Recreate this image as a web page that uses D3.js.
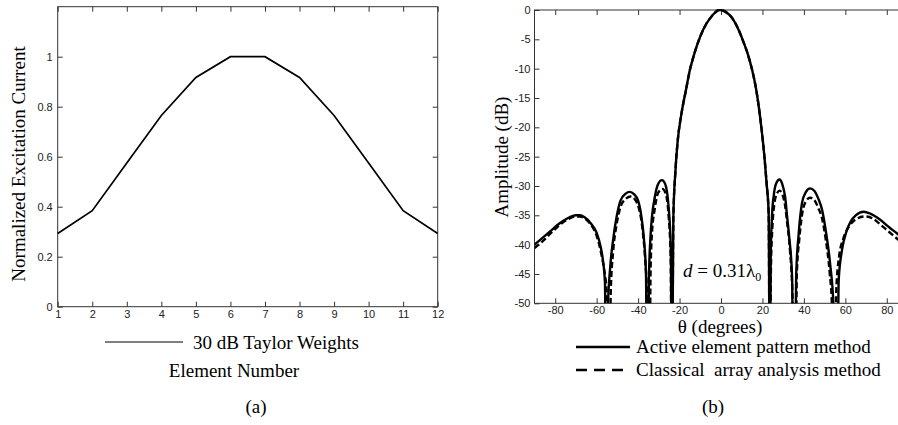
<!DOCTYPE html>
<html>
<head>
<meta charset="utf-8">
<script src="https://cdn.jsdelivr.net/npm/d3@7"></script>
<style>
  body { margin: 0; background: #fff; }
  svg { display: block; }
  .tick text { font-family: "Liberation Sans", Arial, sans-serif; font-size: 11px; fill: #222; }
</style>
</head>
<body>
<div id="chart"></div>
<script>
// (a) Taylor weights
const elements = [1, 2, 3, 4, 5, 6, 7, 8, 9, 10, 11, 12];
const taylorWeights = [0.293, 0.384, 0.575, 0.765, 0.917, 1.0, 1.0, 0.917, 0.765, 0.575, 0.384, 0.293];
const weightTicks = [0, 0.2, 0.4, 0.6, 0.8, 1];

// (b) radiation patterns, nulls given as -70 and clipped at -50
const activeTheta = [-90, -86, -82, -78, -74, -70, -68, -66, -63, -60, -58, -57, -56, -55.3,
  -54.5, -53.5, -52, -50.5, -48.5, -46, -44, -42, -40, -38.5, -37.2, -36.2, -35.6,
  -35.3, -34.8, -34, -33.3, -32, -30.5, -28.5, -27, -25.3, -24.2, -23.7,
  -23, -22, -21, -19, -17, -15, -13, -10, -7, -5, -3, -1, 0, 1, 3, 5, 7, 9, 11, 13, 15, 17, 19, 21, 22, 23, 23.6,
  24.0, 24.6, 25.5, 26.7, 28.2, 29.5, 31, 31.9, 33, 34.3, 35,
  35.6, 36.3, 37.5, 39.1, 41, 43, 45, 47, 48.8, 50.5, 52.8, 54.2, 55.3,
  56, 56.8, 58.4, 60.5, 62.5, 65, 68.9, 72, 77, 81, 85, 90];
const activeDb = [-40.0, -38.8, -37.6, -36.4, -35.5, -35.0, -35.0, -35.3, -36.3, -38.0, -40.5, -42.6, -46.5, -70,
  -50, -44, -39, -35.5, -32.5, -31.3, -31.0, -31.4, -32.5, -35, -39, -45, -70,
  -70, -46, -38.5, -35.2, -32, -29.8, -29.0, -29.6, -33.5, -40.9, -70,
  -35.5, -27.5, -22.7, -17.5, -13.8, -10.2, -7.6, -4.5, -2.3, -1.3, -0.5, 0, 0, -0.1, -0.5, -1.2, -2.3, -3.8, -5.6, -7.6, -10.2, -13.6, -18.6, -25.2, -29.5, -34.7, -70,
  -42, -35.2, -31.5, -29.5, -28.9, -29.6, -32, -35.2, -39, -45.5, -70,
  -70, -45, -38.1, -32.9, -31, -30.4, -30.8, -32.2, -34.1, -37.5, -43.75, -50, -70,
  -70, -46, -40.9, -37.8, -36.1, -35, -34.4, -34.7, -35.8, -37, -38.1, -39.6];

const classicalTheta = [-90, -86, -82, -78, -74, -70, -68, -66, -63, -60, -58, -56.5, -55, -54.4,
  -53.8, -53.2, -52, -50.5, -48.5, -46, -43.5, -41.5, -39.5, -38, -36.7, -35.6, -35,
  -34.6, -34, -33.3, -32, -30.5, -28.3, -26.8, -25.3, -24.3, -23.7,
  -23, -22, -21, -19, -17, -15, -13, -10, -7, -5, -3, -1, 0, 1, 3, 5, 7, 9, 11, 13, 15, 17, 19, 21, 22, 23, 23.6,
  24.1, 24.8, 25.7, 27, 28.3, 29.7, 31, 32, 33.3, 34.6, 35.2,
  35.8, 36.6, 37.8, 39.3, 41, 43, 45, 47, 48.8, 50.5, 52.5, 53.5, 54.2,
  54.8, 55.6, 57, 59, 62, 65, 69.5, 73, 77, 81, 85, 90];
const classicalDb = [-40.6, -39.4, -38.0, -36.7, -35.7, -35.2, -35.2, -35.5, -36.5, -38.5, -41.2, -44, -49, -70,
  -70, -48, -41, -36.8, -33.6, -32.2, -31.8, -32.3, -34, -37, -42, -50, -70,
  -70, -45, -38, -34, -31.3, -30.5, -31.2, -35, -42, -70,
  -35.5, -27.5, -22.7, -17.5, -13.8, -10.2, -7.6, -4.5, -2.3, -1.3, -0.5, 0, 0, -0.1, -0.5, -1.2, -2.3, -3.8, -5.6, -7.6, -10.2, -13.6, -18.6, -25.2, -29.5, -34.7, -70,
  -44, -37, -33.2, -31.3, -30.8, -31.5, -33.5, -36.5, -41, -50, -70,
  -70, -45, -39, -34.5, -32.6, -32.0, -32.4, -33.8, -35.6, -39, -45, -50, -70,
  -70, -48, -42, -39, -36.8, -35.7, -35.2, -35.5, -36.6, -37.8, -39, -40.5];
const thetaTicks = [-80, -60, -40, -20, 0, 20, 40, 60, 80];
const dbTicks = [-50, -45, -40, -35, -30, -25, -20, -15, -10, -5, 0];

const SERIF = '"Liberation Serif", "Times New Roman", Times, serif';

const svg = d3.select('#chart').append('svg')
  .attr('width', 898)
  .attr('height', 425);

// small helper for the Times-style captions
function caption(g, x, y, str, anchor) {
  return g.append('text')
    .attr('x', x).attr('y', y)
    .attr('font-family', SERIF)
    .attr('font-size', 19)
    .attr('fill', '#000')
    .attr('text-anchor', anchor || 'start')
    .text(str);
}

// ---------- panel (a) ----------
const xa = d3.scaleLinear().domain([1, 12]).range([57.7, 437.7]);
const ya = d3.scaleLinear().domain([0, 1.2]).range([306.7, 6.7]);

const ga = svg.append('g');
ga.append('g').attr('transform', 'translate(0,306.7)')
  .call(d3.axisBottom(xa).tickValues(elements).tickFormat(d3.format('d')).tickSizeInner(-5).tickSizeOuter(0).tickPadding(4));
ga.append('g').attr('transform', 'translate(0,6.7)')
  .call(d3.axisTop(xa).tickValues(elements).tickFormat('').tickSizeInner(-5).tickSizeOuter(0));
ga.append('g').attr('transform', 'translate(57.7,0)')
  .call(d3.axisLeft(ya).tickValues(weightTicks).tickFormat(d => d === 0 ? '0' : d3.format('.1f')(d).replace(/\.0$/, '')).tickSizeInner(-5).tickSizeOuter(0).tickPadding(5));
ga.append('g').attr('transform', 'translate(437.7,0)')
  .call(d3.axisRight(ya).tickValues(weightTicks).tickFormat('').tickSizeInner(-5).tickSizeOuter(0));
ga.selectAll('.domain').remove();
ga.selectAll('.tick line').attr('stroke', '#333');

ga.append('rect')
  .attr('x', 57.7).attr('y', 6.7)
  .attr('width', 380).attr('height', 300)
  .attr('fill', 'none').attr('stroke', '#333').attr('stroke-width', 1);

const lineA = d3.line()
  .x((d, i) => xa(elements[i]))
  .y(d => ya(d));
ga.append('path')
  .datum(taylorWeights)
  .attr('fill', 'none')
  .attr('stroke', '#000')
  .attr('stroke-width', 1.7)
  .attr('d', lineA);

caption(ga, 0, 0, 'Normalized Excitation Current', 'middle')
  .attr('transform', 'translate(25,164) rotate(-90)');

ga.append('line')
  .attr('x1', 105).attr('x2', 183).attr('y1', 342).attr('y2', 342)
  .attr('stroke', '#000').attr('stroke-width', 1.2);
caption(ga, 193, 349, '30 dB Taylor Weights');
caption(ga, 234, 377, 'Element Number', 'middle');
caption(ga, 256, 413, '(a)', 'middle');

// ---------- panel (b) ----------
const xb = d3.scaleLinear().domain([-90, 90]).range([534.5, 907.5]);
const yb = d3.scaleLinear().domain([-50, 0]).range([303.3, 10]);

const gb = svg.append('g');
gb.append('g').attr('transform', 'translate(0,303.3)')
  .call(d3.axisBottom(xb).tickValues(thetaTicks).tickSizeInner(-5).tickSizeOuter(0).tickPadding(3));
gb.append('g').attr('transform', 'translate(0,10)')
  .call(d3.axisTop(xb).tickValues(thetaTicks).tickFormat('').tickSizeInner(-5).tickSizeOuter(0));
gb.append('g').attr('transform', 'translate(534.5,0)')
  .call(d3.axisLeft(yb).tickValues(dbTicks).tickSizeInner(-5).tickSizeOuter(0).tickPadding(4));
gb.selectAll('.domain').remove();
gb.selectAll('.tick line').attr('stroke', '#333');
gb.selectAll('.tick text').text(function () { return this.textContent.replace('−', '-'); });

gb.append('rect')
  .attr('x', 534.5).attr('y', 10)
  .attr('width', 373).attr('height', 293.3)
  .attr('fill', 'none').attr('stroke', '#333').attr('stroke-width', 1);

svg.append('clipPath').attr('id', 'clipB')
  .append('rect').attr('x', 534.5).attr('y', 9).attr('width', 373).attr('height', 294.3);

const patternLine = d3.line()
  .x(d => xb(d[0]))
  .y(d => yb(d[1]))
  .curve(d3.curveMonotoneX);

const activeData = activeTheta.map((t, i) => [t, activeDb[i]]);
const classicalData = classicalTheta.map((t, i) => [t, classicalDb[i]]);

gb.append('path')
  .datum(classicalData)
  .attr('clip-path', 'url(#clipB)')
  .attr('fill', 'none')
  .attr('stroke', '#000')
  .attr('stroke-width', 2.4)
  .attr('stroke-dasharray', '6 3')
  .attr('d', patternLine);

gb.append('path')
  .datum(activeData)
  .attr('clip-path', 'url(#clipB)')
  .attr('fill', 'none')
  .attr('stroke', '#000')
  .attr('stroke-width', 2.4)
  .attr('d', patternLine);

// spacing note
const note = caption(gb, 683, 277, '');
note.append('tspan').attr('font-style', 'italic').text('d');
note.append('tspan').text(' = 0.31λ');
note.append('tspan').attr('dy', 4).attr('font-size', 12).text('0');

caption(gb, 0, 0, 'Amplitude (dB)', 'middle')
  .attr('transform', 'translate(508,157) rotate(-90)');

caption(gb, 720, 333, 'θ (degrees)', 'middle');

gb.append('line')
  .attr('x1', 576).attr('x2', 630).attr('y1', 347).attr('y2', 347)
  .attr('stroke', '#000').attr('stroke-width', 2.4);
caption(gb, 636, 353, 'Active element pattern method');

gb.append('line')
  .attr('x1', 576).attr('x2', 630).attr('y1', 370).attr('y2', 370)
  .attr('stroke', '#000').attr('stroke-width', 2.4)
  .attr('stroke-dasharray', '11 7');
caption(gb, 636, 376, 'Classical  array analysis method')
  .style('white-space', 'pre');

caption(gb, 713, 413, '(b)', 'middle');
</script>
</body>
</html>
